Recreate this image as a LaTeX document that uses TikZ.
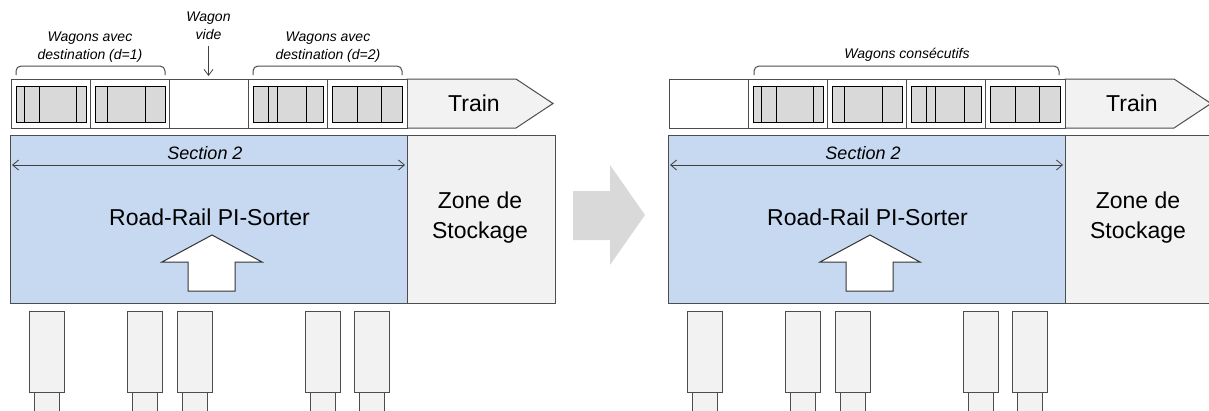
\documentclass[tikz,border=0pt]{standalone}
\usepackage{fontspec}
\setmainfont{Liberation Sans}
\usetikzlibrary{arrows.meta,calc}
\definecolor{sortBlue}{HTML}{C6D9F0}
\definecolor{paleGray}{HTML}{F2F2F2}
\definecolor{loadGray}{HTML}{D9D9D9}
\definecolor{lineGray}{HTML}{4D4D4D}

\begin{document}
\begin{tikzpicture}[x=1pt, y=-1pt, line width=1pt,
    every node/.style={inner sep=0pt, outer sep=0pt},
    panel/.style={draw=lineGray, anchor=north west},
    small/.style={font=\itshape\fontsize{14}{18}\selectfont, align=center},
    big/.style={font=\fontsize{23}{30}\selectfont, align=center},
    barb/.style={{Straight Barb[length=6pt,width=10pt]}-{Straight Barb[length=6pt,width=10pt]}, line width=0.8pt, draw=black!75}]
  \useasboundingbox (0,0) rectangle (1209,410);

  % transfer arrow between the two states
  \fill[loadGray] (573,191) -- (610,191) -- (610,165) -- (645,215) -- (610,265) -- (610,240) -- (573,240) -- cycle;

  \foreach \ox/\p in {0/L, 658/R} {
    % train and wagons
    \draw[lineGray, fill=paleGray] (\ox+407,79) -- (\ox+516,79) -- (\ox+553,103.5) -- (\ox+516,128) -- (\ox+407,128) -- cycle;
    \node[font=\fontsize{23}{30}\selectfont, anchor=base] (train\p) at (\ox+474,111) {Train};
    \node[panel, fill=white, minimum width=396pt, minimum height=49pt] (strip\p) at (\ox+11,79) {};
    \foreach \k in {1,...,4}
      \draw[lineGray] (\ox+11+79.2*\k,79) -- (\ox+11+79.2*\k,128);
    % sorter and storage zone
    \node[panel, fill=sortBlue, minimum width=397pt, minimum height=168pt] (sorter\p) at (\ox+10,135) {};
    \node[panel, fill=paleGray, minimum width=148pt, minimum height=168pt] (zone\p) at (\ox+407,135) {};
    \node[big] (zonetxt\p) at (\ox+480,218) {Zone de\\Stockage};
    \coordinate (secA\p) at (\ox+12,165);
    \coordinate (secB\p) at (\ox+405,165);
    \draw[barb] (secA\p) -- (secB\p);
    \node[font=\itshape\fontsize{18}{20}\selectfont, anchor=base] (sec\p) at (\ox+205,159) {Section 2};
    \node[big, anchor=base] (name\p) at (\ox+209.5,225) {Road-Rail PI-Sorter};
    \draw[black!80, fill=white] (\ox+212,235) -- (\ox+262,262) -- (\ox+235,262) -- (\ox+235,291)
      -- (\ox+188,291) -- (\ox+188,262) -- (\ox+162,262) -- cycle;
    % trucks at the docks
    \foreach \tx [count=\i] in {46.5,144.5,194.5,323,371.5} {
      \node[draw=lineGray, fill=paleGray, minimum width=35pt, minimum height=81pt, anchor=north] (truck\p\i) at (\ox+\tx,311) {};
      \node[draw=lineGray, fill=paleGray, minimum width=25pt, minimum height=25pt, anchor=north] (cab\p\i) at (truck\p\i.south) {};
    }
  }

  % loads inside the wagons
  \foreach \ox/\c/\pat in {0/0/{8,23,60}, 0/1/{12,50}, 0/3/{15,24,53}, 0/4/{25,49},
      658/1/{8,23,60}, 658/2/{12,50}, 658/3/{15,24,53}, 658/4/{25,49}} {
    \draw[fill=loadGray] (\ox+16+79.2*\c,86) rectangle ++(70,36);
    \foreach \l in \pat
      \draw (\ox+16+79.2*\c+\l,86) -- ++(0,36);
  }

  % labels above the trains
  \node[small] (dest1) at (90,47) {Wagons avec\\destination (d=1)};
  \node[small] (dest2) at (328,47) {Wagons avec\\destination (d=2)};
  \node[small] (vide) at (208.5,26) {Wagon\\vide};
  \coordinate (videtip) at (208.5,76);
  \draw[-{Straight Barb[length=6pt,width=9pt]}, line width=0.8pt, black!75, shorten <=6pt] (vide) -- (videtip);
  \node[small, anchor=base] (consec) at (907,58) {Wagons consécutifs};
  \draw[lineGray, rounded corners=5pt] (16,75) |- (90,66) -| (165,75);
  \draw[lineGray, rounded corners=5pt] (253,75) |- (328,66) -| (402,75);
  \draw[lineGray, rounded corners=5pt] (754,75) |- (907,66) -| (1059,75);
\end{tikzpicture}
\end{document}
